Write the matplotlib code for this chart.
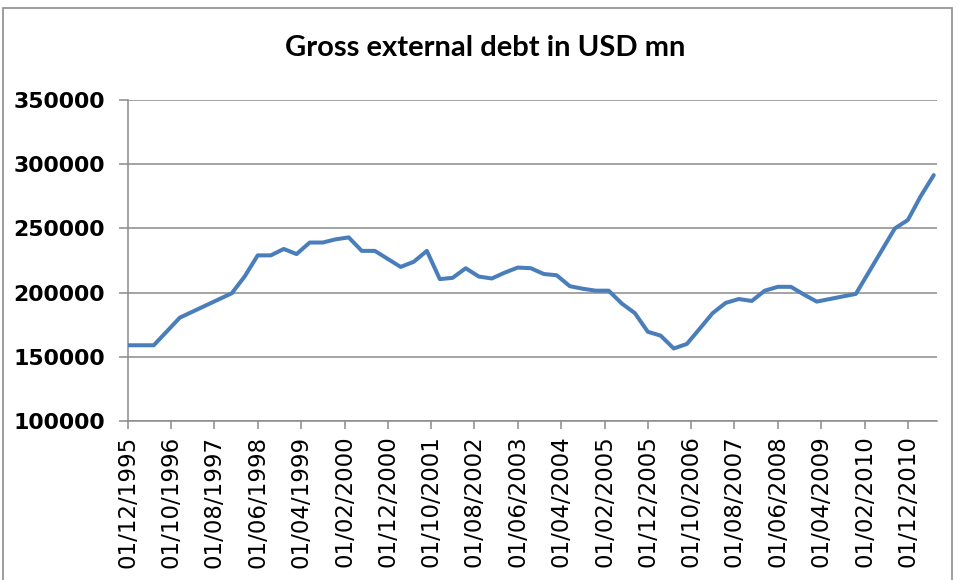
import pandas as pd
import matplotlib.pyplot as plt
import matplotlib.dates as mdates
from matplotlib.patches import Rectangle

# quarterly-ish readings of gross external debt (USD mn)
dates = ['1995-12', '1996-06', '1996-12', '1997-12',
         '1998-03', '1998-06', '1998-09', '1998-12',
         '1999-03', '1999-06', '1999-09', '1999-12',
         '2000-03', '2000-06', '2000-09',
         '2001-03', '2001-06', '2001-09', '2001-12',
         '2002-03', '2002-06', '2002-09', '2002-12',
         '2003-03', '2003-06', '2003-09', '2003-12',
         '2004-03', '2004-06', '2004-09', '2004-12',
         '2005-03', '2005-06', '2005-09', '2005-12',
         '2006-03', '2006-06', '2006-09', '2006-12',
         '2007-03', '2007-06', '2007-09', '2007-12',
         '2008-03', '2008-06', '2008-09', '2008-12',
         '2009-03', '2009-12',
         '2010-09', '2010-12', '2011-03', '2011-06']
debt = [159000, 159000, 180500, 199500,
        212500, 229000, 229000, 234000,
        230000, 239000, 239000, 241500,
        243000, 232500, 232500,
        220000, 224000, 232500, 210500,
        211500, 219000, 212500, 211000,
        215500, 219500, 219000, 214500,
        213500, 205000, 203000, 201500,
        201500, 191500, 184000, 169500,
        166500, 156500, 160000, 172000,
        184000, 192000, 195000, 193500,
        201500, 204500, 204500, 198500,
        193000, 199000,
        250000, 256500, 275000, 291500]

y_ticks = [100000, 150000, 200000, 250000, 300000, 350000]

x = pd.to_datetime(dates)
tick_dates = pd.date_range('1995-12-01', periods=19, freq='10MS')

fig = plt.figure(figsize=(9.58, 5.8), dpi=100)
ax = fig.add_axes([0.1333, 0.2741, 0.8445, 0.5535])

grid_col = '#8a8a8a'
ax.plot(x, debt, color='#4a7ebb', linewidth=2.9, solid_joinstyle='round',
        solid_capstyle='round', zorder=3)

ax.set_ylim(100000, 350000)
ax.set_yticks(y_ticks)
ax.set_xlim(pd.Timestamp('1995-12-01'), pd.Timestamp('2011-06-22'))
ax.set_xticks(tick_dates)
ax.xaxis.set_major_formatter(mdates.DateFormatter('%d/%m/%Y'))

ax.grid(axis='y', color=grid_col, linewidth=1.1)
ax.set_axisbelow(True)
for side in ['top', 'right']:
    ax.spines[side].set_visible(False)
for side in ['left', 'bottom']:
    ax.spines[side].set_color(grid_col)
    ax.spines[side].set_linewidth(1.1)

ax.tick_params(axis='y', length=6.5, width=1.1, color=grid_col, pad=10)
ax.tick_params(axis='x', length=5.5, width=1.1, color=grid_col, pad=5)
for lab in ax.get_yticklabels():
    lab.set_fontsize(15.8)
    lab.set_fontweight('bold')
for lab in ax.get_xticklabels():
    lab.set_fontsize(16.5)
    lab.set_rotation(90)

fig.text(0.506, 0.917, 'Gross external debt in USD mn', ha='center', va='center',
         fontsize=21, fontweight='bold', family='Lato')

# chart area frame
fig.patches.append(Rectangle((3 / 958, -0.1), 949 / 958, 1.1 - 8 / 580,
                             transform=fig.transFigure, fill=False,
                             edgecolor='#8c8c8c', linewidth=1.2))

plt.savefig('out.png', dpi=100)
